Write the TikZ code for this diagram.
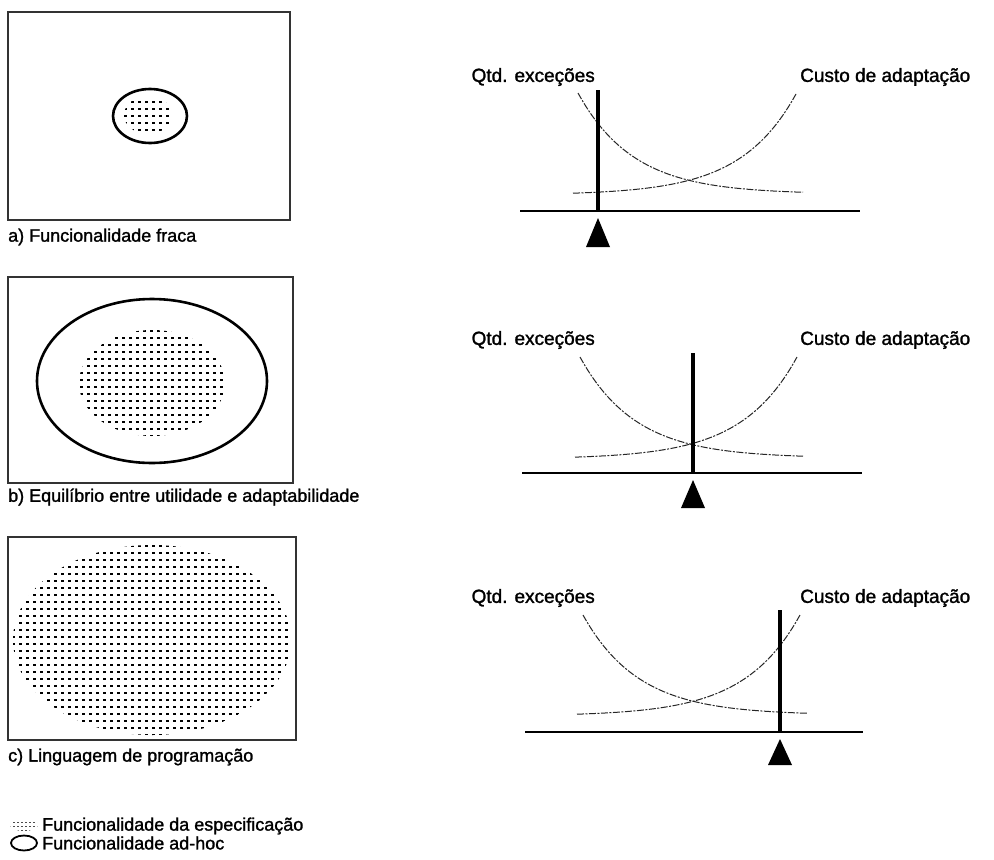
\documentclass[tikz,border=0pt]{standalone}
\usepackage{fontspec}
\setmainfont{Liberation Sans}
\newfontfamily\scanfont[FakeBold=1.4]{Liberation Sans}
\begin{document}
\begin{tikzpicture}[x=1pt,y=-1pt,
  frame/.style={draw=black!80,line width=1.1pt},
  adhoc/.style={draw=black,line width=2.6pt},
  lbl/.style={anchor=west,inner sep=0pt,font=\scanfont\fontsize{18}{21}\selectfont},
  clbl/.style={inner sep=0pt,font=\scanfont\fontsize{19}{22}\selectfont},
  axis/.style={draw=black,line width=2pt},
  bar/.style={draw=black,line width=4.5pt},
  curve/.style={draw=black!85,line width=1pt,dash pattern=on 7pt off 1.5pt on 2pt off 1.5pt},
  tri/.style={fill=black}]
\useasboundingbox (0,0) rectangle (994,860);
\fill[white] (0,0) rectangle (994,860);

% ---------- left panels ----------
\draw[frame] (8,12) rectangle (290,220);
\begin{scope}
  \clip (148,115) ellipse [x radius=24, y radius=19];
  \foreach \i in {124,131,...,172} \foreach \j in {94,101,...,136} \fill (\i,\j) rectangle ++(2.6,2);
\end{scope}
\draw[adhoc] (150,116) ellipse [x radius=37, y radius=27];
\node[lbl] (la) at (8,237) {a) Funcionalidade fraca};

\draw[frame] (8,277) rectangle (293,483);
\begin{scope}
  \clip (152,383) ellipse [x radius=73, y radius=53];
  \foreach \i in {80,87,...,227} \foreach \j in {330,337,...,437} \fill (\i,\j) rectangle ++(2.6,2);
\end{scope}
\draw[adhoc] (152,381) ellipse [x radius=115, y radius=82];
\node[lbl] (lb) at (8,497) {b) Equilíbrio entre utilidade e adaptabilidade};

\draw[frame] (8,537) rectangle (296,740);
\begin{scope}
  \clip (152,640) ellipse [x radius=139, y radius=95];
  \foreach \i in {12,19,...,292} \foreach \j in {545,552,...,737} \fill (\i,\j) rectangle ++(2.6,2);
\end{scope}
\node[lbl] (lc) at (8,757) {c) Linguagem de programação};

% ---------- legend ----------
\begin{scope}
  \clip (24,825) ellipse [x radius=14, y radius=6];
  \foreach \i in {9,13,...,40} \foreach \j in {818,822,...,832} \fill[black!70] (\i,\j) rectangle ++(1.6,1.2);
\end{scope}
\node[lbl] (l1) at (42,826) {Funcionalidade da especificação};
\draw[draw=black,line width=1.8pt] (24,843) ellipse [x radius=13, y radius=7.5];
\node[lbl] (l2) at (42,843) {Funcionalidade ad-hoc};

% ---------- chart a ----------
\node[clbl,anchor=east] (qa) at (595,77) {Qtd. exceções};
\node[clbl,anchor=west] (ca) at (800,77) {Custo de adaptação};
\draw[curve] plot[domain=578:803,samples=80] (\x,{194-101*exp(-0.018*(\x-578))});
\draw[curve] plot[domain=573:796,samples=80] (\x,{195-101*exp(-0.018*(796-\x))});
\coordinate (a0) at (520,211); \coordinate (a1) at (860,211);
\draw[axis] (a0) -- (a1);
\coordinate (ab0) at (598,90); \coordinate (ab1) at (598,212);
\draw[bar] (ab0) -- (ab1);
\fill[tri] (598,218) -- (610,247) -- (586,247) -- cycle;

% ---------- chart b ----------
\node[clbl,anchor=east] (qb) at (595,340) {Qtd. exceções};
\node[clbl,anchor=west] (cb) at (800,340) {Custo de adaptação};
\draw[curve] plot[domain=580:803,samples=80] (\x,{458-101*exp(-0.018*(\x-580))});
\draw[curve] plot[domain=575:797,samples=80] (\x,{459-102*exp(-0.018*(797-\x))});
\coordinate (b0) at (522,473); \coordinate (b1) at (862,473);
\draw[axis] (b0) -- (b1);
\coordinate (bb0) at (693,353); \coordinate (bb1) at (693,474);
\draw[bar] (bb0) -- (bb1);
\fill[tri] (693,480) -- (705,508) -- (681,508) -- cycle;

% ---------- chart c ----------
\node[clbl,anchor=east] (qc) at (595,598) {Qtd. exceções};
\node[clbl,anchor=west] (cc) at (800,598) {Custo de adaptação};
\draw[curve] plot[domain=583:807,samples=80] (\x,{715-100*exp(-0.018*(\x-583))});
\draw[curve] plot[domain=577:800,samples=80] (\x,{716-101*exp(-0.018*(800-\x))});
\coordinate (c0) at (525,732); \coordinate (c1) at (863,732);
\draw[axis] (c0) -- (c1);
\coordinate (cb0) at (780,610); \coordinate (cb1) at (780,733);
\draw[bar] (cb0) -- (cb1);
\fill[tri] (780,739) -- (792,765) -- (768,765) -- cycle;
\end{tikzpicture}
\end{document}
